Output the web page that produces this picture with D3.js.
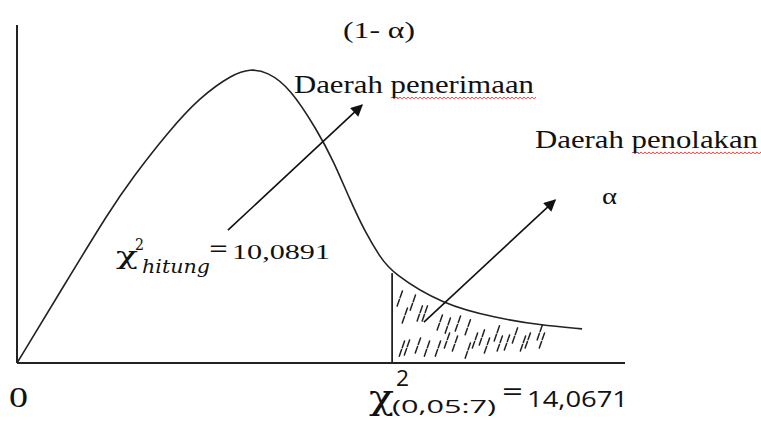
<!DOCTYPE html>
<html>
<head>
<meta charset="utf-8">
<script src="https://cdn.jsdelivr.net/npm/d3@7/dist/d3.min.js"></script>
<style>
  html, body { margin: 0; padding: 0; background: #fff; }
  svg { display: block; }
  text { fill: #111; }
</style>
</head>
<body>
<svg id="chart" width="761" height="421"></svg>
<script>
// chi-square value on x, relative density on y (1 = top of the y axis)
const xExtent = [0, 22.8];
const yExtent = [0, 1];
const chiCritical = 14.0671;
const chiHitung = 10.0891;

// hand drawn density curve
const curveX = [0, 1.73, 3.49, 4.35, 5.63, 6.86, 8.1, 8.74, 9.38, 10.24, 11.25, 11.85, 12.49, 13.05, 13.61, 14.07, 15.97, 18.0, 19.61, 21.19];
const curveY = [0, 0.225, 0.453, 0.55, 0.68, 0.787, 0.855, 0.87, 0.862, 0.814, 0.689, 0.601, 0.482, 0.388, 0.314, 0.266, 0.172, 0.133, 0.112, 0.101];

// short hatch strokes in the rejection region (stroke centres)
const hatchX = [14.36, 14.85, 14.55, 15.11, 15.3, 15.86, 16.16, 16.54, 16.91, 14.44, 14.63, 15.04, 15.38, 15.79, 16.13, 16.43, 16.91, 17.18, 17.44, 17.63, 18.0, 18.11, 18.38, 18.68, 18.98, 19.16, 19.69, 19.61];
const hatchY = [0.192, 0.18, 0.142, 0.148, 0.148, 0.121, 0.112, 0.118, 0.107, 0.044, 0.047, 0.053, 0.044, 0.044, 0.068, 0.059, 0.038, 0.068, 0.077, 0.053, 0.089, 0.059, 0.062, 0.083, 0.059, 0.068, 0.068, 0.092];

// pointer arrows: [start, tip]
const arrowAcc = [[7.91, 0.393], [12.94, 0.763]];
const arrowRej = [[15.26, 0.121], [20.18, 0.482]];

const labelTop = "(1- α)";
const labelAcc = "Daerah penerimaan";
const labelRej = "Daerah penolakan";
const labelAlpha = "α";
const labelZero = "0";

const svg = d3.select("#chart");
const x = d3.scaleLinear().domain([0, 24]).range([17, 657]);
const y = d3.scaleLinear().domain(yExtent).range([363, 25]);

svg.append("defs").append("marker")
  .attr("id", "head")
  .attr("viewBox", "0 0 10 10")
  .attr("refX", 9).attr("refY", 5)
  .attr("markerWidth", 14).attr("markerHeight", 12)
  .attr("markerUnits", "userSpaceOnUse")
  .attr("orient", "auto")
  .append("path")
  .attr("d", "M0,0 L10,5 L0,10 Z")
  .attr("fill", "#111");

// axes
svg.append("line")
  .attr("x1", x(xExtent[0])).attr("x2", x(xExtent[1]))
  .attr("y1", y(0)).attr("y2", y(0))
  .attr("stroke", "#222").attr("stroke-width", 2);
svg.append("line")
  .attr("x1", x(0)).attr("x2", x(0))
  .attr("y1", y(yExtent[0])).attr("y2", y(yExtent[1]))
  .attr("stroke", "#222").attr("stroke-width", 2);

// density curve
const pts = curveX.map((d, i) => [x(d), y(curveY[i])]);
const line = d3.line().curve(d3.curveBasis);
svg.append("path")
  .attr("d", line(pts))
  .attr("fill", "none")
  .attr("stroke", "#222")
  .attr("stroke-width", 1.6);

// critical value boundary
const critIdx = d3.bisectLeft(curveX, chiCritical);
svg.append("line")
  .attr("x1", x(chiCritical)).attr("x2", x(chiCritical))
  .attr("y1", y(0)).attr("y2", y(curveY[critIdx]))
  .attr("stroke", "#222").attr("stroke-width", 1.8);

// hatching
svg.append("g").selectAll("line")
  .data(hatchX.map((d, i) => [d, hatchY[i]]))
  .join("line")
  .attr("x1", d => x(d[0]) - 2.8).attr("y1", d => y(d[1]) + 8)
  .attr("x2", d => x(d[0]) + 2.8).attr("y2", d => y(d[1]) - 8)
  .attr("stroke", "#222").attr("stroke-width", 1.5)
  .attr("stroke-dasharray", "7 2")
  .attr("stroke-linecap", "round");

// arrows
[arrowAcc, arrowRej].forEach(a => {
  svg.append("line")
    .attr("x1", x(a[0][0])).attr("y1", y(a[0][1]))
    .attr("x2", x(a[1][0])).attr("y2", y(a[1][1]))
    .attr("stroke", "#111").attr("stroke-width", 1.6)
    .attr("marker-end", "url(#head)");
});

// plain text labels
function label(txt, px, py, size, len, family, style) {
  const t = svg.append("text")
    .attr("x", px).attr("y", py)
    .attr("font-family", family || "'Liberation Serif', 'Times New Roman', serif")
    .attr("font-size", size)
    .text(txt);
  if (len) t.attr("textLength", len).attr("lengthAdjust", "spacingAndGlyphs");
  if (style) t.attr("font-style", style);
  return t;
}

label(labelTop, 343, 38, 23, 72);
label(labelAcc, 294, 93, 25, 240);
label(labelRej, 535, 148, 25, 223);
label(labelAlpha, 602, 204, 24, 15);
label(labelZero, 9, 407, 29, 19);

// spell-check squiggles
function squiggle(x0, x1, yy) {
  let d = `M${x0},${yy}`;
  for (let px = x0, k = 0; px < x1; px += 2, k++) d += `L${px + 2},${yy + (k % 2 ? 0 : 1.8)}`;
  svg.append("path").attr("d", d).attr("fill", "none")
    .attr("stroke", "#e33").attr("stroke-width", 0.9);
}
squiggle(392, 535, 97);
squiggle(633, 760, 152);

// chi-square labels
const mathFont = "'DejaVu Serif', serif";
const sansFont = "'Open Sans', 'Noto Sans', sans-serif";
label("χ", 116, 264, 24, 22, mathFont);
label("2", 135, 250, 17, 9, mathFont);
label("hitung", 142, 273, 19, 68, mathFont, "italic");
label("=", 209, 257, 24, 19, sansFont);
label(d3.format(".4f")(chiHitung).replace(".", ","), 232, 259, 22, 98, "'Liberation Serif', serif");

label("χ", 369, 409, 34, 25, mathFont);
label("2", 396, 386, 21, 13, sansFont);
label("(0,05:7)", 392, 413, 19, 104, sansFont);
label("=", 502, 401, 26, 21, sansFont);
label(d3.format(".4f")(chiCritical).replace(".", ","), 527, 407, 21, 101, sansFont);
</script>
</body>
</html>
